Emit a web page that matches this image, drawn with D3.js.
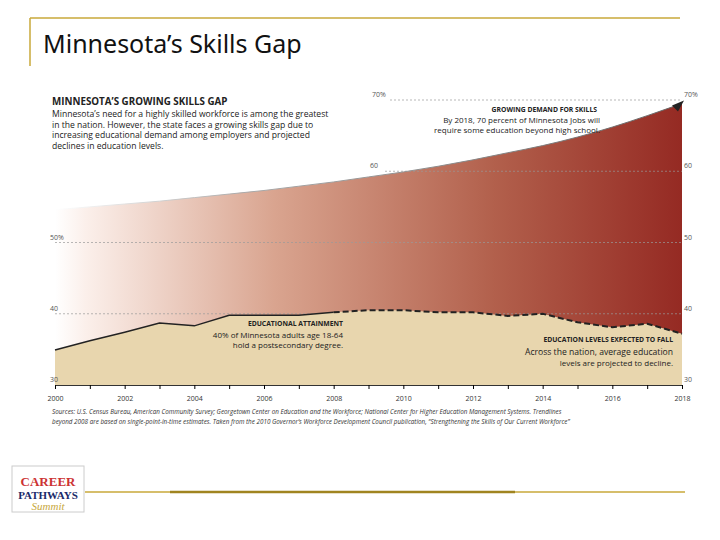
<!DOCTYPE html>
<html><head><meta charset="utf-8">
<script src="https://cdn.jsdelivr.net/npm/d3@7"></script>
<style>body{margin:0;background:#fff}</style></head>
<body><svg width="720" height="540"></svg>
<script>
// данные
const years = [2000,2001,2002,2003,2004,2005,2006,2007,2008,2009,2010,2011,2012,2013,2014,2015,2016,2017,2018];
const demand = [54.6,55,55.4,55.8,56.3,56.8,57.3,57.9,58.5,59.2,59.9,60.7,61.6,62.6,63.6,64.8,66.2,67.8,69.5];
const attainment = [34.9,36.2,37.4,38.7,38.3,39.8,39.8,39.8,40.2,40.5,40.5,40.2,40.2,39.7,40,38.8,38.1,38.6,37.2];
const yTicks = [30,40,50,60,70];
const xTicks = [2000,2002,2004,2006,2008,2010,2012,2014,2016,2018];

const svg = d3.select("svg");
const font = "'Open Sans', 'DejaVu Sans', sans-serif";

// рамка слайда
svg.append("line").attr("x1",30).attr("x2",680).attr("y1",18).attr("y2",18).attr("stroke","#c8a83a").attr("stroke-width",1.5);
svg.append("line").attr("x1",30).attr("x2",30).attr("y1",18).attr("y2",66).attr("stroke","#c8a83a").attr("stroke-width",1.5);
svg.append("text").attr("x",43).attr("y",53).text("Minnesota’s Skills Gap")
  .attr("font-family","'Noto Sans', sans-serif").attr("font-size",25).attr("fill","#111");
svg.append("line").attr("x1",85).attr("x2",685).attr("y1",492).attr("y2",492).attr("stroke","#c8a83a").attr("stroke-width",1.5);
svg.append("line").attr("x1",170).attr("x2",515).attr("y1",492).attr("y2",492).attr("stroke","#a08420").attr("stroke-width",2.5);

// логотип
const logo = svg.append("g");
logo.append("rect").attr("x",12).attr("y",466).attr("width",72).attr("height",46).attr("fill","#fff").attr("stroke","#ccc");
logo.append("text").attr("x",48).attr("y",486).attr("text-anchor","middle").text("CAREER").attr("font-family","serif").attr("font-weight","bold").attr("font-size",13).attr("fill","#c33");
logo.append("text").attr("x",48).attr("y",499).attr("text-anchor","middle").text("PATHWAYS").attr("font-family","serif").attr("font-weight","bold").attr("font-size",11).attr("fill","#1a2a6a");
logo.append("text").attr("x",48).attr("y",510).attr("text-anchor","middle").text("Summit").attr("font-family","serif").attr("font-style","italic").attr("font-size",11).attr("fill","#c8a83a");

const x = d3.scaleLinear().domain([2000,2018]).range([55,682]);
const y = d3.scaleLinear().domain([30,70]).range([385,100]);

// градиент
const defs = svg.append("defs");
const grad = defs.append("linearGradient").attr("id","red").attr("x1","0").attr("x2","1").attr("y1","0").attr("y2","0");
grad.append("stop").attr("offset","0").attr("stop-color","#ffffff");
grad.append("stop").attr("offset","0.05").attr("stop-color","#fbefea");
grad.append("stop").attr("offset","0.35").attr("stop-color","#d9a48f");
grad.append("stop").attr("offset","0.7").attr("stop-color","#b2604c");
grad.append("stop").attr("offset","1").attr("stop-color","#952a23");
const lgrad = defs.append("linearGradient").attr("id","edge").attr("x1","0").attr("x2","1").attr("y1","0").attr("y2","0");
lgrad.append("stop").attr("offset","0").attr("stop-color","#fff");
lgrad.append("stop").attr("offset","0.3").attr("stop-color","#aaa");
lgrad.append("stop").attr("offset","1").attr("stop-color","#666");

svg.append("path").attr("d", d3.area().x((d,i)=>x(years[i])).y0(y(30)).y1(d=>y(d)).curve(d3.curveMonotoneX)(demand)).attr("fill","url(#red)");
svg.append("path").attr("d", d3.line().x((d,i)=>x(years[i])).y(d=>y(d)).curve(d3.curveMonotoneX)(demand)).attr("fill","none").attr("stroke","url(#edge)").attr("stroke-width",1);

// линии сетки
yTicks.slice(1).forEach(t=>{
  svg.append("line").attr("x2",x(2018)).attr("y1",y(t)).attr("y2",y(t))
    .attr("stroke","#999").attr("stroke-dasharray","2,2").attr("stroke-width",0.7)
    .attr("x1", t==70 ? 390 : t==60 ? 385 : x(2000));
});

svg.append("path").attr("d", d3.area().x((d,i)=>x(years[i])).y0(y(30)).y1(d=>y(d))(attainment)).attr("fill","#e8d6ae");
const idx8 = years.indexOf(2008);
const line = d3.line().x(d=>x(d[0])).y(d=>y(d[1]));
const pts = years.map((yr,i)=>[yr,attainment[i]]);
svg.append("path").attr("d", line(pts.slice(0,idx8+1))).attr("fill","none").attr("stroke","#222").attr("stroke-width",1.5);
svg.append("path").attr("d", line(pts.slice(idx8))).attr("fill","none").attr("stroke","#222").attr("stroke-width",2).attr("stroke-dasharray","6,3");

// стрелка
svg.append("path").attr("d",`M${x(2018)-10},${y(69.5)+2} L${x(2018)+2},${y(69.5)-3} L${x(2018)-4},${y(69.5)+8} Z`).attr("fill","#222");

// ось x
const xa = svg.append("g").attr("transform",`translate(0,${y(30)})`)
  .call(d3.axisBottom(x).tickValues(years).tickSize(4).tickFormat(d=>xTicks.includes(d)?d:""));
xa.select(".domain").attr("stroke","#333");
xa.selectAll("text").attr("font-family",font).attr("font-size",7).attr("fill","#333").attr("dy","1.3em");

// подписи оси y
yTicks.forEach(t=>{
  const lab = t==70||t==50 ? t+"%" : t;
  const lx = t==70 ? 372 : t==60 ? 370 : 50;
  svg.append("text").attr("x",lx).attr("y",y(t)-3).text(lab).attr("font-family",font).attr("font-size",7).attr("fill","#555");
  svg.append("text").attr("x",684).attr("y",y(t)-3).text(t==70?"70%":t).attr("font-family",font).attr("font-size",7).attr("fill","#555");
});

function txt(xx,yy,s,o){const t=svg.append("text").attr("x",xx).attr("y",yy).text(s).attr("font-family",font).attr("font-size",o.size||7.5).attr("fill",o.fill||"#222");
  if(o.bold)t.attr("font-weight","bold"); if(o.anchor)t.attr("text-anchor",o.anchor); if(o.italic)t.attr("font-style","italic"); return t;}

txt(52,105,"MINNESOTA’S GROWING SKILLS GAP",{bold:true,size:9.8});
["Minnesota’s need for a highly skilled workforce is among the greatest","in the nation.  However, the state faces a growing skills gap due to","increasing educational demand among employers and projected","declines in education levels."]
  .forEach((s,i)=>txt(52,117+i*10.5,s,{size:8.6}));
txt(597,112,"GROWING DEMAND FOR SKILLS",{bold:true,size:6.8,anchor:"end"});
txt(600,123,"By 2018, 70 percent of Minnesota Jobs will",{size:8,anchor:"end"});
txt(600,133,"require some education beyond high school.",{size:8,anchor:"end"});
txt(343,326,"EDUCATIONAL ATTAINMENT",{bold:true,size:6.8,anchor:"end"});
txt(343,338,"40% of Minnesota adults age 18-64",{size:8,anchor:"end"});
txt(343,348,"hold a postsecondary degree.",{size:8,anchor:"end"});
txt(673,342,"EDUCATION LEVELS EXPECTED TO FALL",{bold:true,size:6.8,anchor:"end"});
txt(673,355,"Across the nation, average education",{size:8.6,anchor:"end"});
txt(673,366,"levels are projected to decline.",{size:8,anchor:"end"});
txt(52,414,"Sources: U.S. Census Bureau, American Community Survey; Georgetown Center on Education and the Workforce; National Center for Higher Education Management Systems. Trendlines",{size:6.3,italic:true,fill:"#333"});
txt(52,424,"beyond 2008 are based on single-point-in-time estimates.  Taken from the 2010 Governor’s Workforce Development Council publication, “Strengthening the Skills of Our Current Workforce”",{size:6.3,italic:true,fill:"#333"});
</script></body></html>
